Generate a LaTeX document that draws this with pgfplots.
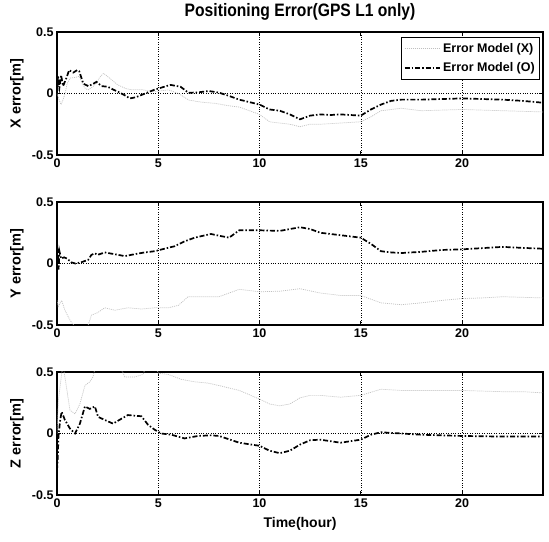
\documentclass[border=0pt]{standalone}
\usepackage{fontspec}
\setmainfont{Liberation Sans}
\newfontfamily\titlefont{Liberation Sans}[FakeStretch=0.87]
\usepackage{pgfplots}
\pgfplotsset{compat=1.18}
\pgfplotsset{
 pnl/.style={
  scale only axis, width=486pt, height=123pt,
  xmin=0, xmax=24, ymin=-0.5, ymax=0.5,
  xtick={0,5,10,15,20}, xticklabels={0,5,10,15,20},
  ytick={-0.5,0,0.5}, yticklabels={-0.5,0,0.5},
  grid=major, major grid style={black, dotted, line width=0.5pt},
  tick align=inside, major tick length=4pt,
  every tick/.style={black, line width=1pt},
  axis line style={line width=1.3pt},
  ticklabel style={font=\fontsize{12.5}{14}\selectfont\bfseries},
  ylabel style={at={(axis description cs:-0.0823,0.5)}, anchor=center, font=\fontsize{14.5}{16}\selectfont\bfseries},
  xlabel style={at={(axis description cs:0.5,-0.236)}, anchor=center, font=\fontsize{14}{16}\selectfont\bfseries},
 },
 xm/.style={gray!50, line width=0.7pt, dash pattern=on 1pt off 1pt},
 om/.style={black, line width=1.7pt, dash pattern=on 5pt off 2pt on 1.5pt off 2pt},
}
\begin{document}
\begin{tikzpicture}
\useasboundingbox (0,0) rectangle (549pt,541pt);
% ---------------- X panel
\begin{axis}[pnl, at={(57pt,386pt)}, anchor=south west,
  ylabel={X error[m]},
  every axis title shift=0pt,
  title={\titlefont\fontsize{18}{20}\selectfont\bfseries Positioning Error(GPS L1 only)},
  title style={at={(axis description cs:0.5,1.163)}, anchor=center},
  legend style={at={(0.994,0.959)}, anchor=north east, draw=black, line width=0.6pt,
    font=\fontsize{12.5}{14}\selectfont\bfseries, inner xsep=3pt, inner ysep=4pt, row sep=5pt, cells={anchor=west}},
  legend image code/.code={\draw[#1] (0cm,0cm) -- (1.25cm,0cm);},
]
\addplot[xm] coordinates {
(0,0.00) (0.1,-0.05) (0.2,-0.09) (0.3,-0.05) (0.4,0.00) (0.5,0.08) (0.65,0.125) (0.9,0.13) (1.1,0.14) (1.25,0.08) (1.4,0.04) (1.55,0.03) (1.8,0.06) (1.95,0.085) (2.1,0.13) (2.3,0.164) (2.6,0.125) (3.0,0.07) (3.4,0.04) (3.7,0.03) (4.2,0.03) (4.8,0.015) (5.5,0.03) (6.0,0.0) (6.5,-0.053) (7.1,-0.07) (7.8,-0.08) (8.5,-0.10) (9.0,-0.11) (9.5,-0.14) (10.0,-0.17) (10.5,-0.23) (11.0,-0.24) (11.5,-0.25) (12.0,-0.27) (12.5,-0.25) (13.0,-0.25) (14.0,-0.24) (15.0,-0.23) (15.5,-0.19) (16.0,-0.14) (17.0,-0.12) (18.0,-0.14) (19.0,-0.135) (20.0,-0.13) (21.0,-0.135) (22.0,-0.14) (23.0,-0.145) (24.0,-0.15)};
\addlegendentry{Error Model (X)}
\addplot[om] coordinates {
(0,0.00) (0.05,0.14) (0.12,0.05) (0.2,0.15) (0.3,0.06) (0.45,0.12) (0.6,0.19) (0.8,0.17) (1.0,0.19) (1.1,0.18) (1.3,0.08) (1.55,0.06) (1.8,0.08) (1.95,0.095) (2.2,0.06) (2.5,0.055) (2.8,0.03) (3.0,0.015) (3.3,-0.01) (3.6,-0.04) (3.9,-0.03) (4.2,-0.01) (4.5,0.01) (4.8,0.03) (5.2,0.05) (5.6,0.07) (6.1,0.055) (6.3,0.03) (6.5,0.005) (7.0,0.01) (7.5,0.02) (8.0,0.007) (8.5,-0.02) (9.0,-0.05) (9.5,-0.07) (10.0,-0.09) (10.5,-0.13) (11.0,-0.14) (11.5,-0.17) (12.0,-0.21) (12.5,-0.18) (13.0,-0.17) (13.5,-0.175) (14.0,-0.17) (14.5,-0.175) (15.0,-0.18) (15.5,-0.13) (16.0,-0.09) (16.5,-0.06) (17.0,-0.05) (18.0,-0.05) (19.0,-0.045) (20.0,-0.04) (21.0,-0.045) (22.0,-0.05) (23.0,-0.06) (24.0,-0.075)};
\addlegendentry{Error Model (O)}
\end{axis}
% ---------------- Y panel
\begin{axis}[pnl, at={(57pt,216pt)}, anchor=south west, ylabel={Y error[m]}]
\addplot[xm] coordinates {
(0,-0.30) (0.06,-0.35) (0.23,-0.30) (0.39,-0.38) (0.64,-0.46) (0.9,-0.52) (1.2,-0.55) (1.54,-0.50) (1.7,-0.42) (2.0,-0.40) (2.36,-0.36) (2.86,-0.38) (3.5,-0.36) (4.17,-0.37) (4.83,-0.36) (5.5,-0.36) (6.0,-0.34) (6.47,-0.27) (6.96,-0.27) (7.6,-0.27) (8.0,-0.27) (9.0,-0.21) (10.0,-0.23) (11.0,-0.225) (12.0,-0.205) (13.0,-0.24) (14.0,-0.26) (15.0,-0.26) (15.5,-0.29) (16.0,-0.32) (17.0,-0.335) (18.0,-0.32) (19.0,-0.30) (20.0,-0.285) (21.0,-0.28) (22.0,-0.27) (23.0,-0.275) (24.0,-0.28)};
\addplot[om] coordinates {
(0,0.00) (0.03,0.12) (0.08,-0.05) (0.12,0.10) (0.2,0.04) (0.35,0.05) (0.5,0.04) (0.7,0.01) (0.9,0.00) (1.2,0.01) (1.54,0.03) (1.7,0.07) (1.87,0.083) (2.0,0.07) (2.36,0.09) (2.86,0.075) (3.35,0.06) (3.84,0.076) (4.33,0.09) (4.83,0.10) (5.3,0.12) (5.8,0.14) (6.3,0.18) (6.8,0.21) (7.6,0.24) (8.0,0.226) (8.5,0.21) (9.0,0.27) (10.0,0.27) (11.0,0.265) (12.0,0.295) (12.5,0.28) (13.0,0.25) (14.0,0.23) (15.0,0.21) (15.5,0.16) (16.0,0.10) (16.5,0.09) (17.0,0.085) (18.0,0.095) (19.0,0.11) (20.0,0.115) (21.0,0.125) (22.0,0.135) (23.0,0.127) (24.0,0.12)};
\end{axis}
% ---------------- Z panel
\begin{axis}[pnl, at={(57pt,46pt)}, anchor=south west, ylabel={Z error[m]}, xlabel={Time(hour)}]
\addplot[xm] coordinates {
(0,0.0) (0.07,0.27) (0.23,0.49) (0.3,0.55) (0.39,0.46) (0.64,0.19) (0.89,0.16) (1.13,0.24) (1.38,0.39) (1.62,0.42) (1.78,0.46) (1.9,0.55) (3.1,0.55) (3.35,0.46) (3.84,0.46) (4.25,0.48) (4.4,0.55) (4.9,0.55) (5.0,0.49) (5.5,0.48) (6.14,0.44) (6.8,0.42) (7.45,0.41) (8.0,0.39) (9.0,0.35) (10.0,0.28) (10.5,0.24) (11.0,0.225) (11.5,0.24) (12.0,0.29) (12.5,0.31) (13.0,0.31) (14.0,0.295) (15.0,0.31) (15.5,0.335) (16.0,0.36) (17.0,0.35) (18.0,0.35) (20.0,0.35) (22.0,0.34) (23.0,0.34) (24.0,0.33)};
\addplot[om] coordinates {
(0,-0.30) (0.04,-0.19) (0.07,-0.03) (0.15,0.10) (0.23,0.177) (0.39,0.11) (0.64,0.04) (0.89,0.00) (1.13,0.08) (1.38,0.22) (1.62,0.20) (1.87,0.22) (2.03,0.135) (2.36,0.11) (2.77,0.08) (3.18,0.12) (3.5,0.15) (4.17,0.14) (4.5,0.07) (4.83,0.03) (5.15,0.00) (5.65,-0.01) (6.3,-0.04) (6.96,-0.02) (7.6,-0.015) (8.0,-0.02) (9.0,-0.075) (10.0,-0.10) (10.5,-0.14) (11.0,-0.16) (11.5,-0.14) (12.0,-0.09) (12.5,-0.055) (13.0,-0.05) (14.0,-0.075) (15.0,-0.05) (15.5,-0.01) (16.0,0.01) (17.0,0.00) (18.0,-0.01) (20.0,-0.02) (22.0,-0.025) (24.0,-0.025)};
\end{axis}
\end{tikzpicture}
\end{document}
